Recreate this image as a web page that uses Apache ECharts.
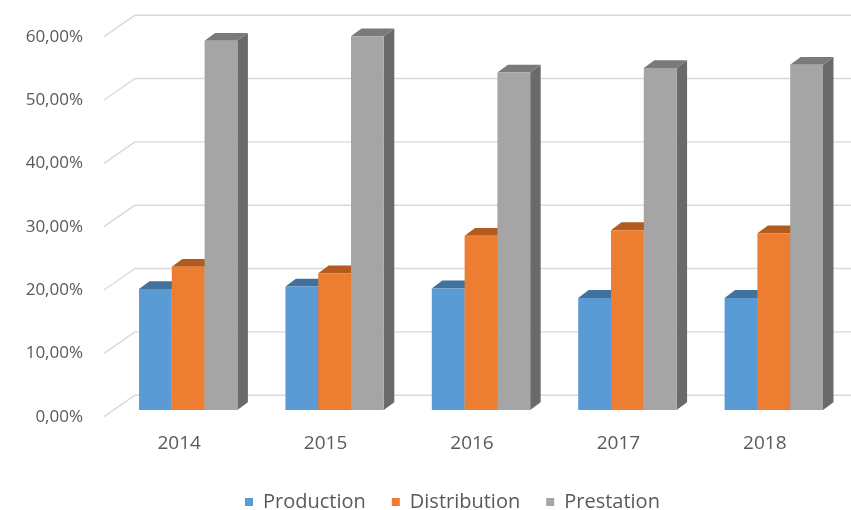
<!DOCTYPE html>
<html>
<head>
<meta charset="utf-8">
<script src="https://cdn.jsdelivr.net/npm/echarts@6/dist/echarts.min.js"></script>
<style>
html,body{margin:0;padding:0;background:#fff;}
#chart{width:851px;height:510px;}
</style>
</head>
<body>
<div id="chart"></div>
<script>
var categories = ['2014', '2015', '2016', '2017', '2018'];
var production = [0.191, 0.195, 0.192, 0.177, 0.177];
var distribution = [0.226, 0.216, 0.275, 0.284, 0.279];
var prestation = [0.583, 0.590, 0.533, 0.540, 0.545];
var yTicks = [0, 0.1, 0.2, 0.3, 0.4, 0.5, 0.6];
var seriesNames = ['Production', 'Distribution', 'Prestation'];

var WALL_DX = 29, WALL_DY = -21.5;     // front plane -> back wall
var BAR_DX = 9, BAR_DY = -6.7;         // front plane -> bar front faces
var DEPTH_DX = 10.5, DEPTH_DY = -7.8;  // bar depth
var BAR_FRAC = 0.224;

var palette = [
  {front: '#5B9BD5', top: '#41719C', side: '#3A6690'},
  {front: '#ED7D31', top: '#B35A1E', side: '#A0501B'},
  {front: '#A5A5A5', top: '#7A7A7A', side: '#6A6A6A'}
];

function barRenderer(si) {
  var c = palette[si];
  return function (params, api) {
    var cat = api.value(0), v = api.value(1);
    var topPt = api.coord([cat, v]);
    var basePt = api.coord([cat, 0]);
    var band = api.size([1, 0])[0];
    var bw = band * BAR_FRAC;
    var x0 = topPt[0] - 1.5 * bw + si * bw + BAR_DX;
    var x1 = x0 + bw;
    var yt = topPt[1] + BAR_DY;
    var yb = basePt[1] + BAR_DY;
    return {
      type: 'group',
      children: [
        {type: 'polygon', shape: {points: [[x1, yt], [x1 + DEPTH_DX, yt + DEPTH_DY], [x1 + DEPTH_DX, yb + DEPTH_DY], [x1, yb]]},
         style: {fill: c.side}},
        {type: 'polygon', shape: {points: [[x0, yt], [x0 + DEPTH_DX, yt + DEPTH_DY], [x1 + DEPTH_DX, yt + DEPTH_DY], [x1, yt]]},
         style: {fill: c.top}},
        {type: 'rect', shape: {x: x0, y: yt, width: bw, height: yb - yt},
         style: {fill: c.front}}
      ]
    };
  };
}

function gridRenderer(params, api) {
  var v = api.value(1);
  var p = api.coord([0, v]);
  var cs = params.coordSys;
  var xf = cs.x - 2;
  var xb = cs.x + WALL_DX;
  var yb = p[1] + WALL_DY;
  var style = {stroke: '#D9D9D9', lineWidth: 1.4, fill: null};
  return {
    type: 'group',
    children: [
      {type: 'line', shape: {x1: xf, y1: p[1], x2: xb, y2: yb}, style: style},
      {type: 'line', shape: {x1: xb, y1: yb, x2: cs.x + cs.width + WALL_DX, y2: yb}, style: style}
    ]
  };
}

function toPairs(arr) { return arr.map(function (v, i) { return [i, v]; }); }

var chart = echarts.init(document.getElementById('chart'), null, {renderer: 'canvas'});
chart.setOption({
  animation: false,
  backgroundColor: '#ffffff',
  grid: {left: 106, right: 13, top: 36.7, bottom: 93.3},
  legend: {
    data: seriesNames,
    left: 240, top: 487,
    icon: 'rect', itemWidth: 8, itemHeight: 8, itemGap: 26,
    textStyle: {fontFamily: 'Open Sans', fontSize: 20, color: '#595959', padding: [0, 0, 0, 5]}
  },
  xAxis: {
    type: 'category', data: categories,
    axisLine: {show: false}, axisTick: {show: false}, splitLine: {show: false},
    axisLabel: {fontFamily: 'Open Sans', fontSize: 19, color: '#595959', margin: 17}
  },
  yAxis: {
    type: 'value', min: 0, max: 0.6, interval: 0.1,
    axisLine: {show: false}, axisTick: {show: false}, splitLine: {show: false},
    axisLabel: {
      fontFamily: 'Open Sans', fontSize: 17, color: '#595959', margin: 23,
      formatter: function (v) { return (v * 100).toFixed(2).replace('.', ',') + '%'; }
    }
  },
  series: [
    {type: 'custom', name: 'grid', z: 1, silent: true, renderItem: gridRenderer,
     itemStyle: {color: '#D9D9D9'},
     data: yTicks.map(function (v) { return [0, v]; })},
    {type: 'custom', name: seriesNames[0], z: 2, renderItem: barRenderer(0),
     itemStyle: {color: palette[0].front}, data: toPairs(production)},
    {type: 'custom', name: seriesNames[1], z: 3, renderItem: barRenderer(1),
     itemStyle: {color: palette[1].front}, data: toPairs(distribution)},
    {type: 'custom', name: seriesNames[2], z: 4, renderItem: barRenderer(2),
     itemStyle: {color: palette[2].front}, data: toPairs(prestation)}
  ]
});
</script>
</body>
</html>
